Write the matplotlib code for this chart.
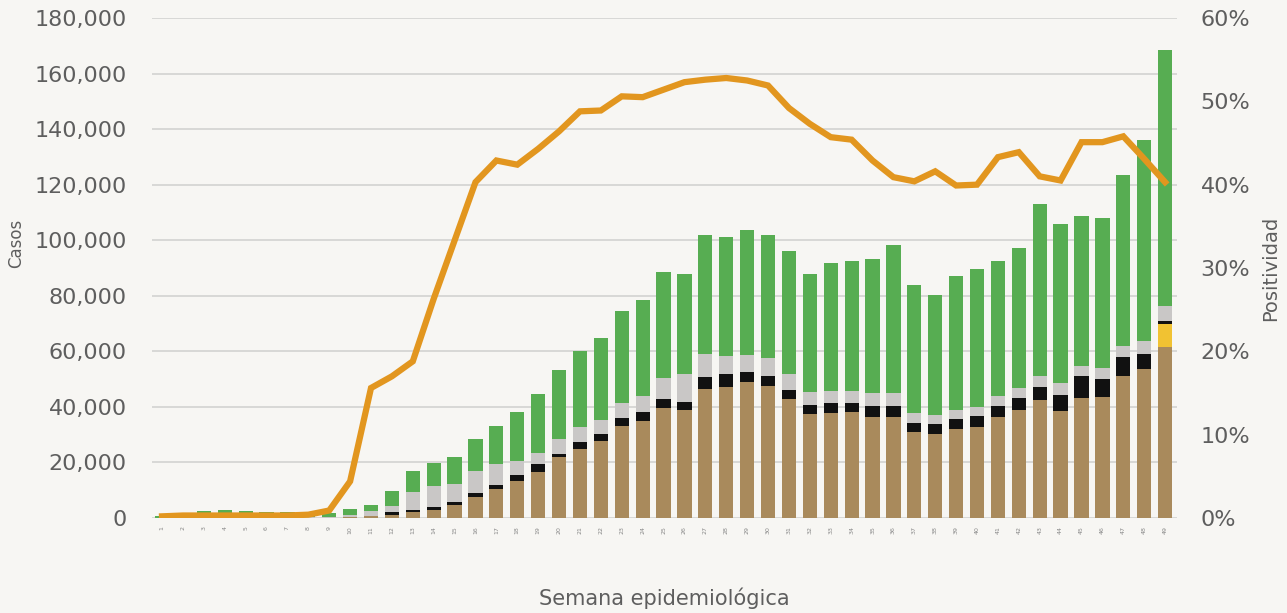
import numpy as np
import matplotlib
matplotlib.use("Agg")
import matplotlib.pyplot as plt
from matplotlib.ticker import FuncFormatter, PercentFormatter

# Semanas epidemiologicas 1..49
semanas = list(range(1, 50))

# Segmentos de cada barra (casos), de abajo hacia arriba
cafe = [0, 0, 0, 0, 0, 0, 0, 0, 50, 200,
        700, 1000, 2000, 2900, 4700, 7600, 10500, 13200, 16500, 21800,
        25000, 27700, 33200, 34900, 39700, 38900, 46500, 47300, 48800, 47700,
        42900, 37400, 37900, 38300, 36500, 36500, 31000, 30200, 31900, 32600,
        36500, 38900, 42500, 38600, 43300, 43700, 51200, 53700, 61400]
amarillo = [0] * 48 + [8600]
negro = [0, 0, 0, 0, 0, 0, 0, 0, 0, 50,
         150, 1000, 900, 1200, 900, 1500, 1500, 2200, 2800, 1400,
         2400, 2400, 2700, 3400, 3200, 3000, 4400, 4500, 3700, 3500,
         3200, 3300, 3600, 3200, 3800, 3800, 3300, 3500, 3600, 4200,
         3900, 4200, 4800, 5700, 7900, 6400, 6600, 5300, 1100]
gris = [100, 200, 300, 300, 300, 300, 300, 300, 350, 950,
        1650, 2400, 6300, 7300, 6600, 8000, 7300, 5100, 4200, 5400,
        5200, 5200, 5400, 5600, 7400, 9900, 8100, 6700, 6300, 6400,
        5800, 4600, 4300, 4300, 4600, 4600, 3400, 3400, 3400, 3300,
        3700, 3600, 3900, 4200, 3700, 3900, 4000, 4600, 5200]
verde = [500, 1200, 2300, 2700, 2100, 2000, 2000, 1900, 1300, 2200,
         2300, 5200, 7900, 8500, 9900, 11300, 13900, 17600, 21200, 24700,
         27400, 29500, 33400, 34500, 38400, 36200, 42900, 42700, 44900, 44300,
         44200, 42700, 46100, 46700, 48500, 53300, 46100, 43100, 48200, 49400,
         48400, 50400, 61800, 57300, 53700, 53900, 61800, 72300, 92200]

# Positividad (%)
positividad = [0.2, 0.3, 0.3, 0.3, 0.3, 0.3, 0.3, 0.4, 0.9, 4.4,
               15.6, 17.0, 18.8, 26.3, 33.3, 40.3, 42.9, 42.4, 44.3, 46.4,
               48.8, 48.9, 50.6, 50.5, 51.4, 52.3, 52.6, 52.8, 52.5, 51.9,
               49.2, 47.3, 45.7, 45.4, 42.9, 40.9, 40.4, 41.6, 39.9, 40.0,
               43.3, 43.9, 41.0, 40.5, 45.1, 45.1, 45.8, 43.1, 40.3]

text_color = "#5e5e5e"
bg = "#f7f6f3"

fig = plt.figure(figsize=(12.87, 6.13), dpi=100, facecolor=bg)
ax = fig.add_axes([152 / 1287, 1 - 518 / 613, (1177 - 152) / 1287, 500 / 613])
ax.set_facecolor("none")

x = np.array(semanas)
width = 0.68
bottom = np.zeros(len(x))
for vals, color in [(cafe, "#a98a5c"), (amarillo, "#f1c232"), (negro, "#111111"),
                    (gris, "#c9c7c6"), (verde, "#57ad52")]:
    v = np.array(vals, dtype=float)
    ax.bar(x, v, width, bottom=bottom, color=color, zorder=2)
    bottom += v

ax.set_xlim(0.52, 49.57)
ax.set_ylim(0, 180000)
ax.set_yticks(range(0, 180001, 20000))
ax.yaxis.set_major_formatter(FuncFormatter(lambda v, p: f"{int(v):,}"))
ax.grid(axis="y", color="#d8d8d6", linewidth=1.4, zorder=0)
ax.set_axisbelow(True)
for s in ax.spines.values():
    s.set_visible(False)
ax.tick_params(axis="y", length=0, pad=18, labelsize=16, labelcolor=text_color)
ax.set_xticks(x)
ax.set_xticklabels([str(s) for s in semanas], rotation=90, fontsize=4.5, color="#888888")
ax.tick_params(axis="x", length=0, pad=6)
ax.set_ylabel("Casos", fontsize=12, color=text_color)
ax.yaxis.set_label_coords(-0.124, 0.55)
ax.set_xlabel("Semana epidemiológica", fontsize=15, color=text_color, labelpad=38)

ax2 = ax.twinx()
ax2.plot(x, positividad, color="#e2961f", linewidth=4.5, solid_joinstyle="miter", zorder=3)
ax2.set_ylim(0, 60)
ax2.set_yticks(range(0, 61, 10))
ax2.yaxis.set_major_formatter(PercentFormatter(decimals=0))
for s in ax2.spines.values():
    s.set_visible(False)
ax2.tick_params(axis="y", length=0, pad=17, labelsize=16, labelcolor=text_color)
ax2.set_ylabel("Positividad", fontsize=14, color=text_color)
ax2.yaxis.set_label_coords(1.082, 0.5)

fig.savefig("out.png", dpi=100, facecolor=bg)
